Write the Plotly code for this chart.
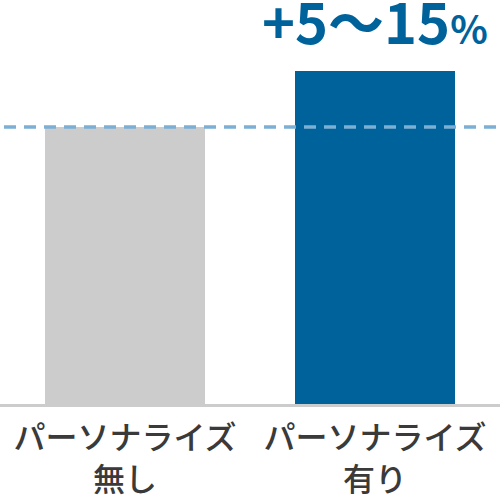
import plotly.graph_objects as go

# data
categories = ["パーソナライズ<br>無し", "パーソナライズ<br>有り"]
values = [100, 120]
bar_colors = ["#cccccc", "#00629b"]
reference_level = 100
headline = "+5～15"

fig = go.Figure(go.Bar(
    x=categories,
    y=values,
    marker=dict(color=bar_colors, line=dict(width=0)),
    width=0.64,
    hoverinfo="skip"))

# dashed reference line at the "without" level
fig.add_shape(type="line", xref="paper", x0=0.008, x1=1, y0=reference_level, y1=reference_level,
              line=dict(color="#7bafd4", width=3.5, dash="12px,8px"))

fig.add_annotation(x=categories[1], y=values[1], yanchor="bottom", yshift=9,
                   text="<b>" + headline + "<span style='font-size:39px'>%</span></b>",
                   showarrow=False,
                   font=dict(family="Noto Sans CJK JP", size=56, color="#00629b", weight=900))

fig['layout'].update(
    width=500, height=500,
    margin=dict(l=0, r=0, t=0, b=93),
    plot_bgcolor="white", paper_bgcolor="white",
    showlegend=False,
    bargap=0,
    font=dict(family="Noto Sans CJK JP", color="#3a3a3a"),
    xaxis=dict(
        showgrid=False,
        showline=True, linecolor="#cccccc", linewidth=3,
        ticks="",
        ticklabelstandoff=4,
        tickfont=dict(size=32, color="#3a3a3a", weight=500),
        range=[-0.5, 1.5]),
    yaxis=dict(
        showgrid=False, zeroline=False,
        showticklabels=False,
        range=[0, 145.8])
)

# page body has an 8px default margin; drop it so the figure sits at 0,0
fig.write_html("out.html", config={"displayModeBar": False},
               post_script="document.body.style.margin='0';")
